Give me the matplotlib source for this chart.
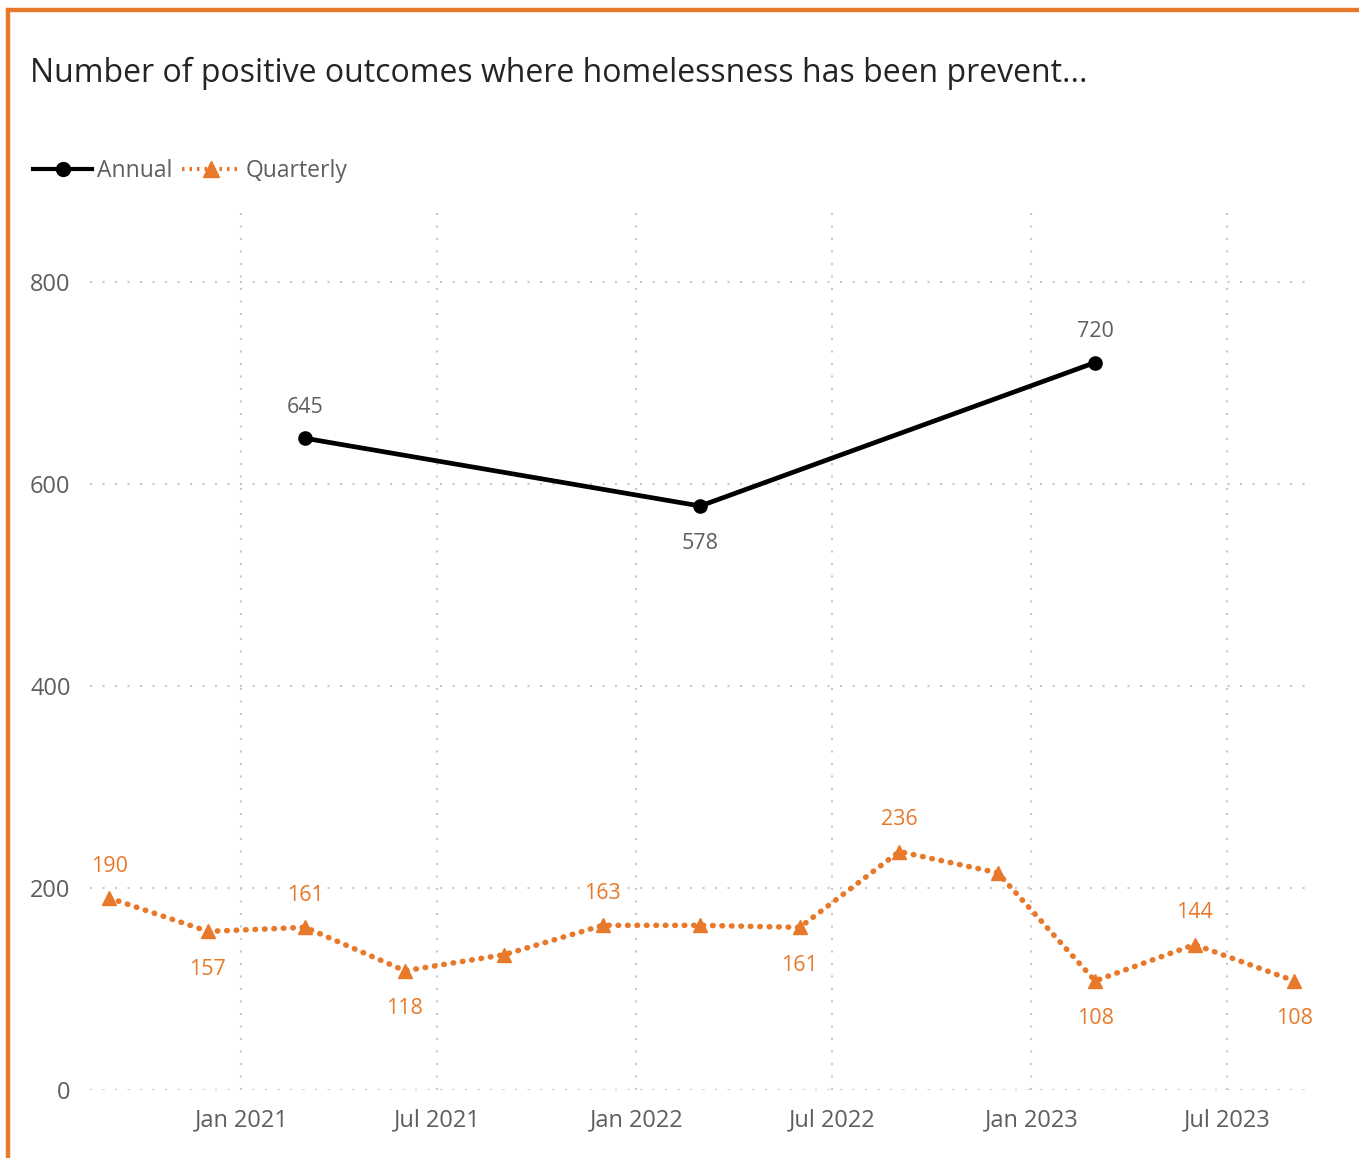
import datetime as dt
import matplotlib
matplotlib.use("Agg")
import matplotlib.pyplot as plt
import matplotlib.dates as mdates
from matplotlib.lines import Line2D
from matplotlib.patches import Rectangle

# data
quarter_dates = ["2020-09-01", "2020-12-01", "2021-03-01", "2021-06-01", "2021-09-01",
                 "2021-12-01", "2022-03-01", "2022-06-01", "2022-09-01", "2022-12-01",
                 "2023-03-01", "2023-06-01", "2023-09-01"]
quarterly = [190, 157, 161, 118, 134, 163, 163, 161, 236, 215, 108, 144, 108]
quarter_label_pos = ["up", "down", "up", "down", None, "up", None, "down", "up", None,
                     "down", "up", "down"]

annual_dates = ["2021-03-01", "2022-03-01", "2023-03-01"]
annual = [645, 578, 720]
annual_label_pos = ["up", "down", "up"]

title = "Number of positive outcomes where homelessness has been prevent..."

ORANGE = "#E8792B"
GREY = "#605E5C"
FONT = "Open Sans"

plt.rcParams["font.family"] = [FONT, "DejaVu Sans"]

qx = [dt.datetime.strptime(d, "%Y-%m-%d") for d in quarter_dates]
ax_dates = [dt.datetime.strptime(d, "%Y-%m-%d") for d in annual_dates]

fig = plt.figure(figsize=(13.59, 11.58), dpi=100)
ax = fig.add_axes([0.0662, 0.0587, 0.8941, 0.76])

# frame of the visual (orange top and left edges)
fig.patches.append(Rectangle((0.0044, 0.0), 0.0022, 0.993, transform=fig.transFigure,
                             color=ORANGE, zorder=0))
fig.patches.append(Rectangle((0.0044, 0.9905), 0.996, 0.0028, transform=fig.transFigure,
                             color=ORANGE, zorder=0))

ax.plot(ax_dates, annual, color="black", lw=3.4, marker="o", ms=9.5, zorder=3,
        solid_capstyle="round")
ax.plot(qx, quarterly, color=ORANGE, lw=4, linestyle=(0, (0.1, 1.6)),
        dash_capstyle="round", marker="^", ms=10.5, zorder=3)

for x, v, p in zip(ax_dates, annual, annual_label_pos):
    off = 31 if p == "up" else -38
    ax.annotate(str(v), (x, v), xytext=(0, off), textcoords="offset pixels",
                ha="center", va="center", fontsize=15.5, color=GREY)

for x, v, p in zip(qx, quarterly, quarter_label_pos):
    if p is None:
        continue
    off = 32 if p == "up" else -38
    ax.annotate(str(v), (x, v), xytext=(0, off), textcoords="offset pixels",
                ha="center", va="center", fontsize=15.5, color=ORANGE)

ax.set_ylim(0, 871)
ax.set_xlim(dt.datetime(2020, 8, 14), dt.datetime(2023, 9, 11))
ax.set_yticks([0, 200, 400, 600, 800])
ax.xaxis.set_major_locator(mdates.MonthLocator(bymonth=[1, 7]))
ax.xaxis.set_major_formatter(mdates.DateFormatter("%b %Y"))

ax.grid(True, color="#C8C8C8", linestyle=(0, (1, 5)), lw=1.5)
ax.set_axisbelow(True)
for s in ax.spines.values():
    s.set_visible(False)
ax.tick_params(length=0, labelsize=17, colors=GREY, pad=13)
ax.tick_params(axis="y", pad=14)

fig.text(0.022, 0.937, title, fontsize=23, color="#252423", ha="left", va="center")

handles = [
    Line2D([], [], color="black", lw=3, marker="o", ms=10),
    Line2D([], [], color=ORANGE, lw=3, linestyle=(0, (0.6, 1.2)), marker="^", ms=11),
]
fig.legend(handles, ["Annual", "Quarterly"], loc="center left",
           bbox_to_anchor=(0.009, 0.852), frameon=False, ncol=2, fontsize=16.5,
           labelcolor=GREY, handlelength=2.6, handletextpad=0.2, columnspacing=0.4)

fig.savefig("out.png", dpi=100)
